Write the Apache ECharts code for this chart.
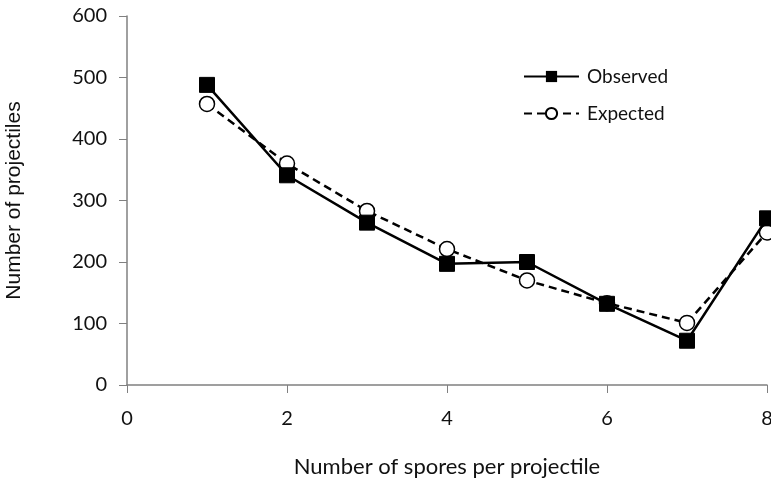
<!DOCTYPE html>
<html><head><meta charset="utf-8">
<script src="https://cdn.jsdelivr.net/npm/echarts@6/dist/echarts.min.js"></script>
<style>html,body{margin:0;padding:0;background:#fff}#c{width:771px;height:479px}</style>
</head><body><div id="c"></div>
<script>
var spores = [1, 2, 3, 4, 5, 6, 7, 8];
var observed = [488, 341, 264, 197, 200, 132, 72, 271];
var expected = [457, 360, 283, 221, 170, 133, 101, 248];
var xTicks = [0, 2, 4, 6, 8];
var yTicks = [0, 100, 200, 300, 400, 500, 600];

var F = 'Lato, "Open Sans", sans-serif';
var chart = echarts.init(document.getElementById('c'));
chart.setOption({
  animation: false,
  backgroundColor: '#fff',
  grid: {left: 127, right: 4, top: 16, bottom: 94, containLabel: false, outerBoundsMode: 'none'},
  legend: {
    orient: 'vertical', left: 518, top: 62, itemGap: 18,
    itemWidth: 55, itemHeight: 14,
    textStyle: {fontFamily: F, fontSize: 19, color: '#111', padding: [0,0,0,3]},
    data: ['Observed', 'Expected']
  },
  xAxis: {
    type: 'value', min: xTicks[0], max: xTicks[xTicks.length-1], interval: 2,
    name: 'Number of spores per projectile', nameLocation: 'middle', nameGap: 71,
    nameTextStyle: {fontFamily: F, fontSize: 22, color: '#111'},
    axisLine: {lineStyle: {color: '#808080', width: 1.5}},
    axisTick: {show: true, length: 8, inside: false, lineStyle: {color: '#808080'}},
    axisLabel: {fontFamily: F, fontSize: 20, color: '#111', margin: 24},
    splitLine: {show: false}
  },
  yAxis: {
    type: 'value', min: yTicks[0], max: yTicks[yTicks.length-1], interval: 100,
    name: 'Number of projectiles', nameLocation: 'middle', nameGap: 102,
    nameTextStyle: {fontFamily: '"Liberation Sans", Arial, sans-serif', fontSize: 21, color: '#111'},
    axisLine: {show: true, lineStyle: {color: '#808080', width: 1.5}},
    axisTick: {show: true, length: 8, lineStyle: {color: '#808080'}},
    axisLabel: {fontFamily: F, fontSize: 20, color: '#111', margin: 20},
    splitLine: {show: false}
  },
  series: [
    {
      name: 'Observed', type: 'line',
      data: spores.map(function(s, i){ return [s, observed[i]]; }),
      symbol: 'rect', symbolSize: 15,
      lineStyle: {color: '#000', width: 2.5},
      itemStyle: {color: '#000', borderColor: '#000'},
      z: 3
    },
    {
      name: 'Expected', type: 'line',
      data: spores.map(function(s, i){ return [s, expected[i]]; }),
      symbol: 'circle', symbolSize: 15,
      lineStyle: {color: '#000', width: 2.5, type: [8, 5]},
      itemStyle: {color: '#fff', borderColor: '#000', borderWidth: 1.5},
      z: 2
    }
  ]
});
</script></body></html>
